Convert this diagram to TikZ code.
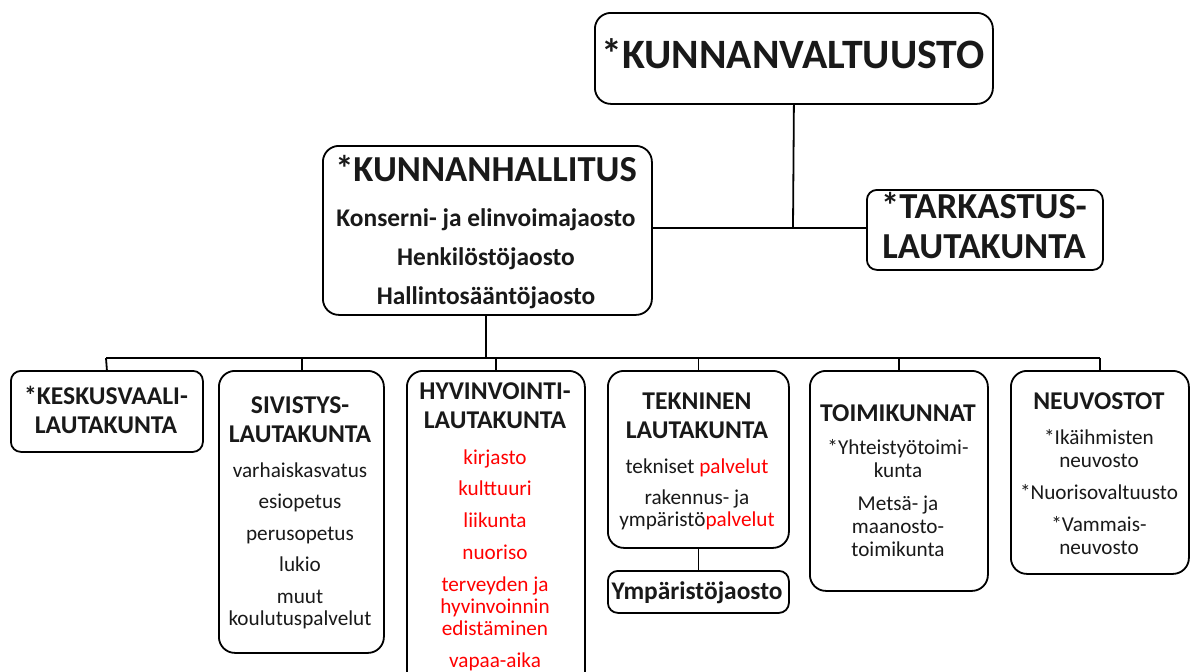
\documentclass[tikz,border=0pt]{standalone}
\usepackage{fontspec}
\setmainfont{Carlito}
\begin{document}
\begin{tikzpicture}[x=1pt,y=-1pt,
  box/.style={draw=black, line width=1.8pt, rounded corners=16pt, anchor=north west, inner sep=0pt},
  sbox/.style={box, rounded corners=10pt},
  conn/.style={draw=black, line width=1.8pt},
  txt/.style={anchor=base, inner sep=0pt, text=black!90},
  huge/.style={txt, font=\bfseries\fontsize{41.8}{41.8}\selectfont},
  big/.style={txt, font=\bfseries\fontsize{36.6}{36.6}\selectfont},
  head/.style={txt, font=\bfseries\fontsize{25.6}{25.6}\selectfont},
  sub/.style={txt, font=\bfseries\fontsize{25.4}{25.4}\selectfont},
  item/.style={txt, font=\fontsize{21.2}{21.2}\selectfont},
  ritem/.style={item, text=red}
]
\clip (0,0) rectangle (1195,672);
\fill[white] (0,0) rectangle (1195,672);

% boxes
\node[box, minimum width=398pt, minimum height=91pt] (kv) at (594,12) {};
\node[box, minimum width=329pt, minimum height=169pt] (kh) at (322,145) {};
\node[sbox, minimum width=236pt, minimum height=80pt] (tl) at (866,189) {};
\node[sbox, minimum width=192pt, minimum height=81pt] (kl) at (10,370) {};
\node[box, minimum width=165pt, minimum height=282pt] (sl) at (218,370) {};
\node[box, minimum width=178pt, minimum height=320pt] (hl) at (406,370) {};
\node[box, minimum width=181pt, minimum height=177pt] (tk) at (607,370) {};
\node[sbox, minimum width=181pt, minimum height=42pt] (yj) at (607,570) {};
\node[box, minimum width=178pt, minimum height=220pt] (tm) at (809,370) {};
\node[box, minimum width=178pt, minimum height=203pt] (nv) at (1010,370) {};

% connectors
\coordinate (j1) at (793,228);
\coordinate (bus) at (486,358);
\coordinate (bl) at (106,358);
\coordinate (br) at (1100,358);
\coordinate (sdrop) at (302,358);
\draw[conn] (kv.south) -- (j1);
\draw[conn] (kh.east |- j1) -- (tl.west |- j1);
\draw[conn] (kh.south -| bus) -- (bus);
\draw[conn] (bl) -- (br);
\draw[conn] (bl) -- (kl.north);
\draw[conn] (sdrop) -- (sdrop |- sl.north);
\draw[conn] (hl.north |- bus) -- (hl.north);
\draw[conn] (tk.north |- bus) -- (tk.north);
\draw[conn] (tm.north |- bus) -- (tm.north);
\draw[conn] (br) -- (nv.north);
\draw[conn] (tk.south) -- (yj.north);

% texts
\node[huge] (tkv) at (793,68) {*KUNNANVALTUUSTO};
\node[big] (tkh) at (486,181) {*KUNNANHALLITUS};
\node[sub] (tkh1) at (486,226) {Konserni- ja elinvoimajaosto};
\node[sub] (tkh2) at (486,265) {Henkilöstöjaosto};
\node[sub] (tkh3) at (486,304) {Hallintosääntöjaosto};
\node[big] (ttl1) at (984,218) {*TARKASTUS-};
\node[big] (ttl2) at (984,258) {LAUTAKUNTA};

\node[head] (tkl1) at (106,404) {*KESKUSVAALI-};
\node[head] (tkl2) at (106,433) {LAUTAKUNTA};

\node[head] (tsl1) at (300,413) {SIVISTYS-};
\node[head] (tsl2) at (300,442) {LAUTAKUNTA};
\node[item] (tsl3) at (300,477) {varhaiskasvatus};
\node[item] (tsl4) at (300,508) {esiopetus};
\node[item] (tsl5) at (300,540) {perusopetus};
\node[item] (tsl6) at (300,571) {lukio};
\node[item] (tsl7) at (300,603) {muut};
\node[item] (tsl8) at (300,625) {koulutuspalvelut};

\node[head] (thl1) at (495,399) {HYVINVOINTI-};
\node[head] (thl2) at (495,428) {LAUTAKUNTA};
\node[ritem] (thl3) at (495,464) {kirjasto};
\node[ritem] (thl4) at (495,495) {kulttuuri};
\node[ritem] (thl5) at (495,527) {liikunta};
\node[ritem] (thl6) at (495,559) {nuoriso};
\node[ritem] (thl7) at (495,591) {terveyden ja};
\node[ritem] (thl8) at (495,613) {hyvinvoinnin};
\node[ritem] (thl9) at (495,635) {edistäminen};
\node[ritem] (thl10) at (495,667) {vapaa-aika};

\node[head] (ttk1) at (697,409) {TEKNINEN};
\node[head] (ttk2) at (697,438) {LAUTAKUNTA};
\node[item] (ttk3) at (697,473) {tekniset \textcolor{red}{palvelut}};
\node[item] (ttk4) at (697,504) {rakennus- ja};
\node[item] (ttk5) at (697,526) {ympäristö\textcolor{red}{palvelut}};
\node[sub] (tyj) at (697,599) {Ympäristöjaosto};

\node[head] (ttm1) at (898,421) {TOIMIKUNNAT};
\node[item] (ttm2) at (898,454) {*Yhteistyötoimi-};
\node[item] (ttm3) at (898,477) {kunta};
\node[item] (ttm4) at (898,510) {Metsä- ja};
\node[item] (ttm5) at (898,533) {maanosto-};
\node[item] (ttm6) at (898,556) {toimikunta};

\node[head] (tnv1) at (1099,409) {NEUVOSTOT};
\node[item] (tnv2) at (1099,444) {*Ikäihmisten};
\node[item] (tnv3) at (1099,467) {neuvosto};
\node[item] (tnv4) at (1099,499) {*Nuorisovaltuusto};
\node[item] (tnv5) at (1099,531) {*Vammais-};
\node[item] (tnv6) at (1099,554) {neuvosto};
\end{tikzpicture}
\end{document}
